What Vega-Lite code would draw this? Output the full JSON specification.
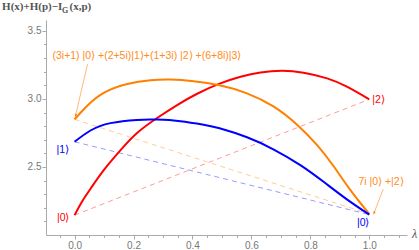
{
  "$schema": "https://vega.github.io/schema/vega-lite/v6.json",
  "width": 361,
  "height": 215,
  "autosize": {"type": "none"},
  "padding": {"left": 46, "top": 20, "right": 12, "bottom": 15},
  "background": "white",
  "config": {"view": {"stroke": null}},
  "resolve": {"axis": {"x": "independent", "y": "independent"}},
  "datasets": {
    "curves": [
      {"series": "red", "lambda": 0, "value": 2.146},
      {"series": "red", "lambda": 0.025, "value": 2.245},
      {"series": "red", "lambda": 0.054, "value": 2.34},
      {"series": "red", "lambda": 0.099, "value": 2.477},
      {"series": "red", "lambda": 0.156, "value": 2.624},
      {"series": "red", "lambda": 0.212, "value": 2.75},
      {"series": "red", "lambda": 0.28, "value": 2.86},
      {"series": "red", "lambda": 0.348, "value": 2.955},
      {"series": "red", "lambda": 0.416, "value": 3.038},
      {"series": "red", "lambda": 0.492, "value": 3.112},
      {"series": "red", "lambda": 0.563, "value": 3.163},
      {"series": "red", "lambda": 0.631, "value": 3.195},
      {"series": "red", "lambda": 0.704, "value": 3.207},
      {"series": "red", "lambda": 0.777, "value": 3.193},
      {"series": "red", "lambda": 0.857, "value": 3.151},
      {"series": "red", "lambda": 0.924, "value": 3.09},
      {"series": "red", "lambda": 1.0, "value": 2.997},
      {"series": "orange", "lambda": 0, "value": 2.85},
      {"series": "orange", "lambda": 0.043, "value": 2.95},
      {"series": "orange", "lambda": 0.099, "value": 3.045},
      {"series": "orange", "lambda": 0.179, "value": 3.11},
      {"series": "orange", "lambda": 0.258, "value": 3.137},
      {"series": "orange", "lambda": 0.325, "value": 3.142},
      {"series": "orange", "lambda": 0.404, "value": 3.13},
      {"series": "orange", "lambda": 0.492, "value": 3.1},
      {"series": "orange", "lambda": 0.585, "value": 3.041},
      {"series": "orange", "lambda": 0.676, "value": 2.943},
      {"series": "orange", "lambda": 0.755, "value": 2.81},
      {"series": "orange", "lambda": 0.823, "value": 2.66},
      {"series": "orange", "lambda": 0.879, "value": 2.505},
      {"series": "orange", "lambda": 0.936, "value": 2.33},
      {"series": "orange", "lambda": 1.0, "value": 2.155},
      {"series": "blue", "lambda": 0, "value": 2.685},
      {"series": "blue", "lambda": 0.054, "value": 2.768},
      {"series": "blue", "lambda": 0.122, "value": 2.822},
      {"series": "blue", "lambda": 0.212, "value": 2.846},
      {"series": "blue", "lambda": 0.28, "value": 2.848},
      {"series": "blue", "lambda": 0.359, "value": 2.836},
      {"series": "blue", "lambda": 0.438, "value": 2.81},
      {"series": "blue", "lambda": 0.492, "value": 2.784},
      {"series": "blue", "lambda": 0.585, "value": 2.718},
      {"series": "blue", "lambda": 0.676, "value": 2.628},
      {"series": "blue", "lambda": 0.766, "value": 2.514},
      {"series": "blue", "lambda": 0.845, "value": 2.391},
      {"series": "blue", "lambda": 0.924, "value": 2.262},
      {"series": "blue", "lambda": 1.0, "value": 2.15}
    ],
    "dashes": [
      {"series": "red", "lambda": 0, "value": 2.146},
      {"series": "red", "lambda": 1, "value": 2.997},
      {"series": "blue", "lambda": 0, "value": 2.685},
      {"series": "blue", "lambda": 1, "value": 2.15},
      {"series": "orange", "lambda": 0, "value": 2.85},
      {"series": "orange", "lambda": 1, "value": 2.155}
    ]
  },
  "layer": [
    {
      "data": {"name": "dashes"},
      "mark": {"type": "line", "strokeWidth": 1, "strokeDash": [5, 4], "opacity": 0.4},
      "encoding": {
        "x": {"field": "lambda", "type": "quantitative", "scale": {"domain": [-0.097, 1.128], "nice": false, "zero": false},
          "axis": {
            "orient": "bottom",
            "values": [0, 0.2, 0.4, 0.6, 0.8, 1.0],
            "format": ".1f", "tickSize": 4,
            "labelOverlap": false, "labelBound": false,
            "grid": false, "domainColor": "#aaaaaa", "tickColor": "#aaaaaa", "labelColor": "#777777",
            "labelFont": "Liberation Sans", "labelFontSize": 10, "labelPadding": 1, "labelFlush": false,
            "title": "λ", "titleFont": "Liberation Serif", "titleFontStyle": "italic", "titleFontWeight": "normal", "titleFontSize": 12, "titleColor": "#555555",
            "titleX": 368, "titleY": -2, "titleAlign": "center", "titleBaseline": "middle", "titleAngle": 0
          }},
        "y": {"field": "value", "type": "quantitative", "scale": {"domain": [2.0, 3.58], "nice": false, "zero": false},
          "axis": {
            "orient": "left",
            "values": [2.5, 3.0, 3.5],
            "format": ".1f", "tickSize": 4,
            "labelOverlap": false, "labelBound": false,
            "grid": false, "domainColor": "#aaaaaa", "tickColor": "#aaaaaa", "labelColor": "#777777",
            "labelFont": "Liberation Sans", "labelFontSize": 10, "labelPadding": 1, "labelFlush": false,
            "title": null
          }},
        "color": {"field": "series", "type": "nominal", "scale": {"domain": ["red", "blue", "orange"], "range": ["#ff0000", "#0000ff", "#ff8000"]}, "legend": null}
      }
    },
    {
      "data": {"name": "curves"},
      "mark": {"type": "line", "strokeWidth": 2, "interpolate": "natural"},
      "encoding": {
        "x": {"field": "lambda", "type": "quantitative",
          "axis": {
            "orient": "bottom",
            "values": [-0.05, 0.05, 0.1, 0.15, 0.25, 0.3, 0.35, 0.45, 0.5, 0.55, 0.65, 0.7, 0.75, 0.85, 0.9, 0.95, 1.05, 1.1],
            "labels": false, "domain": false, "grid": false, "tickSize": 2.5, "tickColor": "#aaaaaa", "title": null
          }},
        "y": {"field": "value", "type": "quantitative",
          "axis": {
            "orient": "left",
            "values": [2.1, 2.2, 2.3, 2.4, 2.6, 2.7, 2.8, 2.9, 3.1, 3.2, 3.3, 3.4],
            "labels": false, "domain": false, "grid": false, "tickSize": 2.5, "tickColor": "#aaaaaa", "title": null
          }},
        "color": {"field": "series", "type": "nominal", "legend": null}
      }
    },
    {
      "data": {"values": [
        {"x": 0.044, "y": 3.256, "x2": 0.003, "y2": 2.875},
        {"x": 1.047, "y": 2.337, "x2": 1.016, "y2": 2.16}
      ]},
      "mark": {"type": "rule", "color": "#ff8000", "strokeWidth": 1, "opacity": 0.55},
      "encoding": {
        "x": {"field": "x", "type": "quantitative", "axis": null},
        "y": {"field": "y", "type": "quantitative", "axis": null},
        "x2": {"field": "x2"},
        "y2": {"field": "y2"}
      }
    },
    {
      "data": {"values": [{"x": 0.002, "y": 2.865}]},
      "mark": {"type": "point", "shape": "M0,0L-0.35,1L0.35,1Z", "filled": true, "color": "#ff8000", "opacity": 1, "size": 49, "angle": 193},
      "encoding": {
        "x": {"field": "x", "type": "quantitative", "axis": null},
        "y": {"field": "y", "type": "quantitative", "axis": null}
      }
    },
    {
      "data": {"values": [{"x": 1.014, "y": 2.148}]},
      "mark": {"type": "point", "shape": "M0,0L-0.35,1L0.35,1Z", "filled": true, "color": "#ff8000", "opacity": 1, "size": 49, "angle": 201},
      "encoding": {
        "x": {"field": "x", "type": "quantitative", "axis": null},
        "y": {"field": "y", "type": "quantitative", "axis": null}
      }
    },
    {
      "data": {"values": [
        {"x": -0.075, "y": 3.315, "label": "(3i+1) |0⟩ +(2+5i)|1⟩+(1+3i) |2⟩ +(6+8i)|3⟩"},
        {"x": 0.963, "y": 2.389, "label": "7i |0⟩ +|2⟩"}
      ]},
      "mark": {"type": "text", "align": "left", "baseline": "middle", "font": "Liberation Sans", "fontSize": 10.5, "color": "#ff8c1a"},
      "encoding": {
        "x": {"field": "x", "type": "quantitative", "axis": null},
        "y": {"field": "y", "type": "quantitative", "axis": null},
        "text": {"field": "label"}
      }
    },
    {
      "data": {"values": [
        {"x": -0.06, "y": 2.122, "label": "|0⟩"},
        {"x": 1.01, "y": 2.992, "label": "|2⟩"}
      ]},
      "mark": {"type": "text", "align": "left", "baseline": "middle", "font": "Liberation Sans", "fontSize": 10.5, "color": "#ff0000"},
      "encoding": {
        "x": {"field": "x", "type": "quantitative", "axis": null},
        "y": {"field": "y", "type": "quantitative", "axis": null},
        "text": {"field": "label"}
      }
    },
    {
      "data": {"values": [
        {"x": -0.061, "y": 2.624, "label": "|1⟩"},
        {"x": 0.958, "y": 2.085, "label": "|0⟩"}
      ]},
      "mark": {"type": "text", "align": "left", "baseline": "middle", "font": "Liberation Sans", "fontSize": 10.5, "color": "#0000ff"},
      "encoding": {
        "x": {"field": "x", "type": "quantitative", "axis": null},
        "y": {"field": "y", "type": "quantitative", "axis": null},
        "text": {"field": "label"}
      }
    },
    {
      "data": {"values": [
        {"x": -0.246, "y": 3.6535, "label": "H(x)+H(p)−I"},
        {"x": -0.017, "y": 3.6535, "label": "(x,p)"}
      ]},
      "mark": {"type": "text", "align": "left", "baseline": "alphabetic", "font": "Liberation Serif", "fontWeight": "bold", "fontSize": 11, "color": "#555555"},
      "encoding": {
        "x": {"field": "x", "type": "quantitative", "axis": null},
        "y": {"field": "y", "type": "quantitative", "axis": null},
        "text": {"field": "label"}
      }
    },
    {
      "data": {"values": [{"x": -0.043, "y": 3.631, "label": "G"}]},
      "mark": {"type": "text", "align": "left", "baseline": "alphabetic", "font": "Liberation Serif", "fontWeight": "bold", "fontSize": 8, "color": "#555555"},
      "encoding": {
        "x": {"field": "x", "type": "quantitative", "axis": null},
        "y": {"field": "y", "type": "quantitative", "axis": null},
        "text": {"field": "label"}
      }
    }
  ]
}
